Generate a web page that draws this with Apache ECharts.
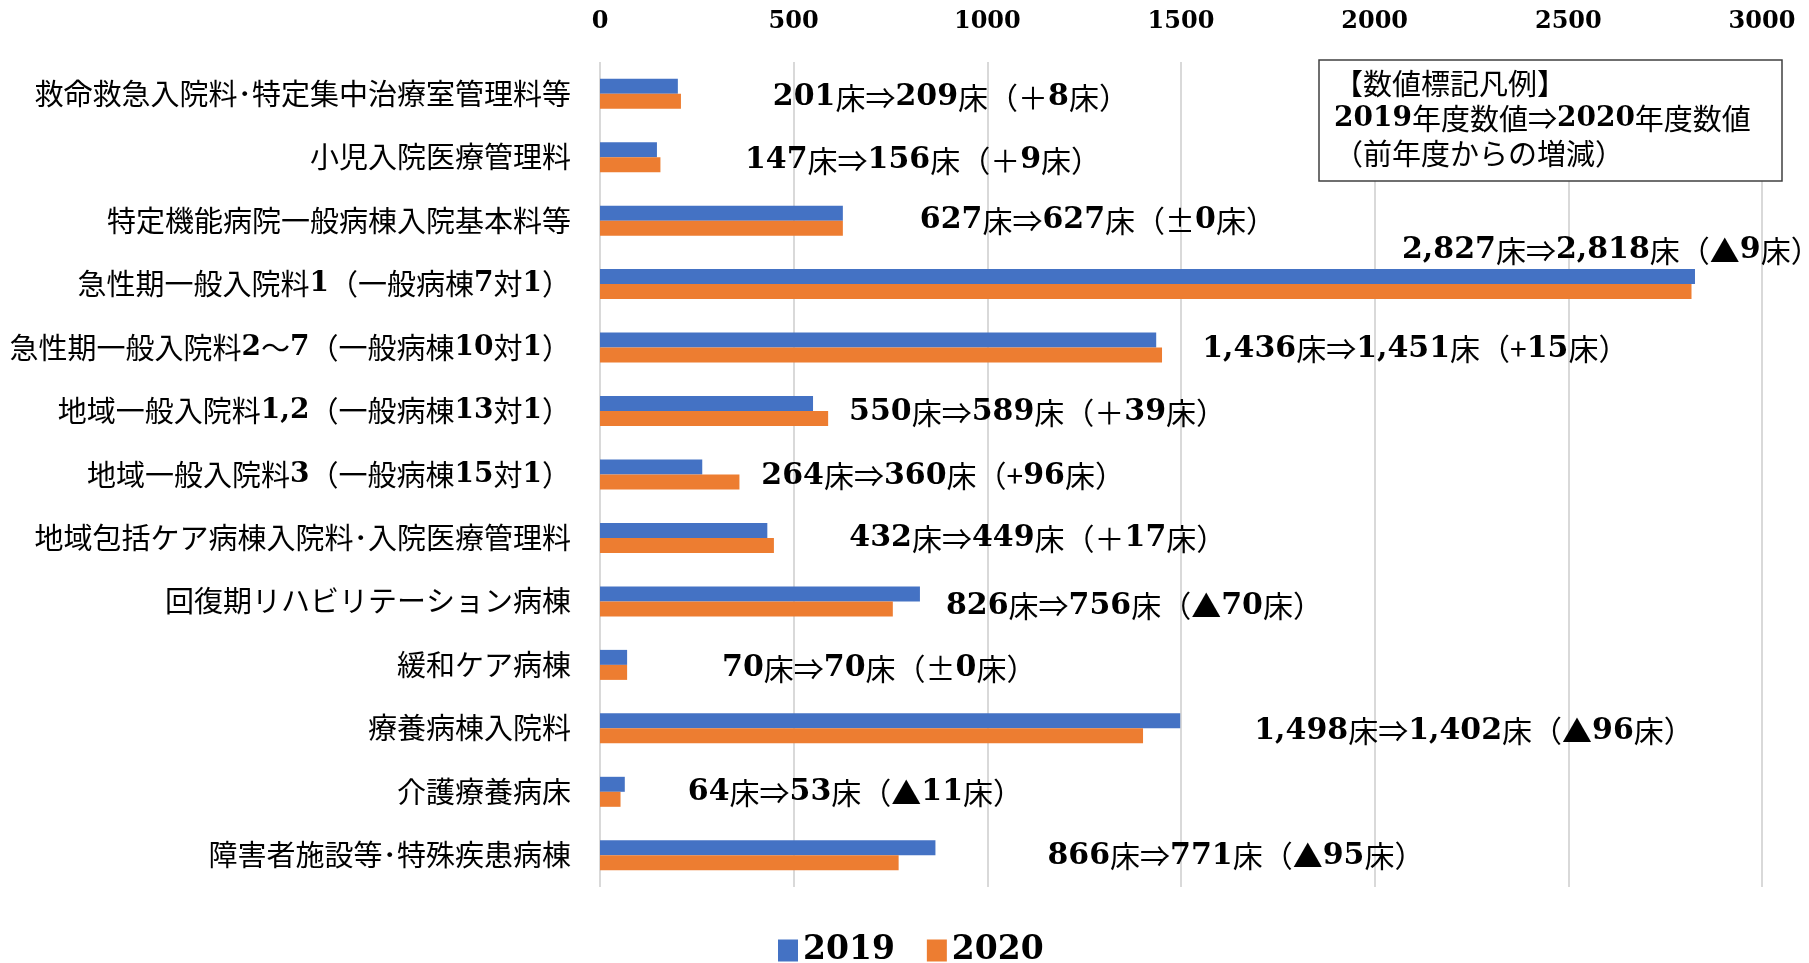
<!DOCTYPE html>
<html>
<head>
<meta charset="utf-8">
<script src="https://cdn.jsdelivr.net/npm/echarts@6/dist/echarts.min.js"></script>
<style>
html, body { margin: 0; padding: 0; background: #fff; }
#main { width: 1809px; height: 963px; }
</style>
</head>
<body>
<div id="main"></div>
<script>
var categories = [
    '救命救急入院料･特定集中治療室管理料等',
    '小児入院医療管理料',
    '特定機能病院一般病棟入院基本料等',
    '急性期一般入院料1（一般病棟7対1）',
    '急性期一般入院料2～7（一般病棟10対1）',
    '地域一般入院料1,2（一般病棟13対1）',
    '地域一般入院料3（一般病棟15対1）',
    '地域包括ケア病棟入院料･入院医療管理料',
    '回復期リハビリテーション病棟',
    '緩和ケア病棟',
    '療養病棟入院料',
    '介護療養病床',
    '障害者施設等･特殊疾患病棟'
];
var beds2019 = [201, 147, 627, 2827, 1436, 550, 264, 432, 826, 70, 1498, 64, 866];
var beds2020 = [209, 156, 627, 2818, 1451, 589, 360, 449, 756, 70, 1402, 53, 771];
var seriesNames = ['2019', '2020'];
var axisMin = 0, axisMax = 3000, axisStep = 500;
// rows whose label was typed with a half-width plus sign
var halfPlusRows = [4, 6];

// where each value label sits relative to the end of the 2019 bar
var labelOffsets = [[95, 11], [88, 11], [77, 7], [-293, -26], [46, 9], [36, 9], [59, 9],
    [82, 8], [26, 12], [95, 11], [74, 10], [63, 8], [112, 8]];

var jp = '"Noto Sans CJK JP"';
var num = '"DejaVu Serif"';

function fmtNum(v) {
    return String(v).replace(/\B(?=(\d{3})+(?!\d))/g, ',');
}
function richDigits(s) {
    return s.replace(/([0-9][0-9,]*)/g, '{d|$1}');
}
function valueLabel(i) {
    var a = beds2019[i], b = beds2020[i], d = b - a;
    var plus = halfPlusRows.indexOf(i) >= 0 ? '+' : '＋';
    var diff = d > 0 ? plus + d : (d < 0 ? '▲' + (-d) : '±0');
    return richDigits(fmtNum(a) + '床⇒' + fmtNum(b) + '床（' + diff + '床）');
}

var myChart = echarts.init(document.getElementById('main'));
var option = {
    animation: false,
    color: ['#4472C4', '#ED7D31'],
    grid: { left: 600, right: 47, top: 62, height: 825 },
    legend: {
        data: seriesNames,
        left: 773,
        top: 929,
        icon: 'rect',
        itemWidth: 20,
        itemHeight: 22,
        itemGap: 32,
        textStyle: { fontFamily: num, fontWeight: 'bold', fontSize: 33, color: '#000' }
    },
    xAxis: {
        type: 'value',
        position: 'top',
        min: axisMin,
        max: axisMax,
        interval: axisStep,
        axisLine: { show: false },
        axisTick: { show: false },
        axisLabel: {
            margin: 28, fontFamily: num, fontWeight: 'bold', fontSize: 24, color: '#000',
            formatter: function (v) { return String(v); }
        },
        splitLine: { lineStyle: { color: '#d9d9d9', width: 2 } }
    },
    yAxis: {
        type: 'category',
        data: categories,
        inverse: true,
        axisLine: { show: false },
        axisTick: { show: false },
        axisLabel: {
            margin: 29,
            fontFamily: jp,
            fontSize: 29,
            color: '#000',
            formatter: function (v) { return richDigits(v); },
            rich: { d: { fontFamily: num, fontWeight: 'bold', fontSize: 28, color: '#000' } }
        }
    },
    graphic: [
        {
            type: 'rect',
            shape: { x: 1319, y: 60, width: 463, height: 121 },
            style: { fill: '#fff', stroke: '#404040', lineWidth: 1.5 },
            z: 10
        },
        {
            type: 'text',
            x: 1334,
            y: 66,
            z: 11,
            style: {
                text: '【数値標記凡例】\n' + richDigits('2019年度数値⇒2020年度数値') + '\n（前年度からの増減）',
                fontFamily: jp,
                fontSize: 29,
                lineHeight: 35,
                fill: '#000',
                rich: { d: { fontFamily: num, fontWeight: 'bold', fontSize: 28, lineHeight: 35, fill: '#000' } }
            }
        }
    ],
    series: [
        {
            name: seriesNames[0],
            type: 'bar',
            barWidth: 15,
            barGap: '0%',
            data: beds2019.map(function (v, i) {
                return { value: v, label: { offset: labelOffsets[i] } };
            }),
            label: {
                show: true,
                position: 'right',
                distance: 0,
                fontFamily: jp,
                fontSize: 30,
                color: '#000',
                formatter: function (p) { return valueLabel(p.dataIndex); },
                rich: { d: { fontFamily: num, fontWeight: 'bold', fontSize: 30, color: '#000' } }
            }
        },
        {
            name: seriesNames[1],
            type: 'bar',
            barWidth: 15,
            barGap: '0%',
            data: beds2020
        }
    ]
};
myChart.setOption(option);
window.addEventListener('resize', function () {
    myChart.resize();
});
</script>
</body>
</html>
